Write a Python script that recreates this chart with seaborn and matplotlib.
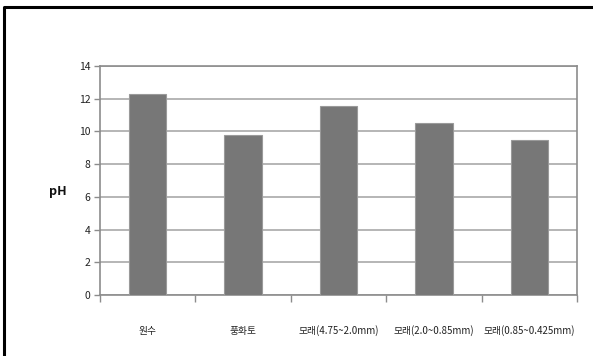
import matplotlib
matplotlib.use("Agg")
import matplotlib.pyplot as plt
from matplotlib.lines import Line2D
from matplotlib.ticker import FixedLocator
import seaborn as sns
import pandas as pd

categories = ["원수", "풍화토", "모래(4.75~2.0mm)", "모래(2.0~0.85mm)", "모래(0.85~0.425mm)"]
ph_values = [12.27, 9.78, 11.53, 10.51, 9.49]
y_ticks = [0, 2, 4, 6, 8, 10, 12, 14]

sns.set_theme(style="white")
plt.rcParams["font.family"] = ["Noto Sans CJK KR", "DejaVu Sans"]

df = pd.DataFrame({"category": categories, "pH": ph_values})

fig = plt.figure(figsize=(5.93, 3.56), dpi=100)
ax = fig.add_axes([100 / 593, 61 / 356, 477 / 593, 229 / 356])

sns.barplot(data=df, x="category", y="pH", color="#777777", width=0.39,
            saturation=1, edgecolor="#9a9a9a", linewidth=0.8, ax=ax, zorder=3)

grid_color = "#b0b0b0"
ax.set_ylim(0, 14)
ax.set_xlim(-0.5, len(categories) - 0.5)
ax.set_yticks(y_ticks)
ax.yaxis.grid(True, color=grid_color, linewidth=1.3, zorder=0)
ax.set_axisbelow(True)

for side in ["left", "bottom", "right", "top"]:
    ax.spines[side].set_visible(True)
    ax.spines[side].set_color("#8c8c8c")
    ax.spines[side].set_linewidth(1.2)

ax.tick_params(axis="y", which="major", direction="out", length=4, width=1,
               color="#8c8c8c", labelsize=7.5, labelcolor="#222222", pad=3, left=True)
ax.tick_params(axis="x", which="major", length=0, labelsize=7,
               labelcolor="#222222", pad=22)
ax.xaxis.set_minor_locator(FixedLocator([i - 0.5 for i in range(len(categories) + 1)]))
ax.tick_params(axis="x", which="minor", direction="out", length=5, width=1,
               color="#8c8c8c", bottom=True)

ax.set_xlabel("")
ax.set_ylabel("")
fig.text(58 / 593, 1 - 192 / 356, "pH", fontsize=9, fontweight="bold",
         ha="center", va="center", color="#111111")

frame_x = 4 / 593
frame_y = 1 - 7 / 356
fig.add_artist(Line2D([frame_x, frame_x, 1.0], [0.0, frame_y, frame_y],
                      transform=fig.transFigure, color="black", linewidth=2.2))

fig.savefig("out.png", dpi=100)
